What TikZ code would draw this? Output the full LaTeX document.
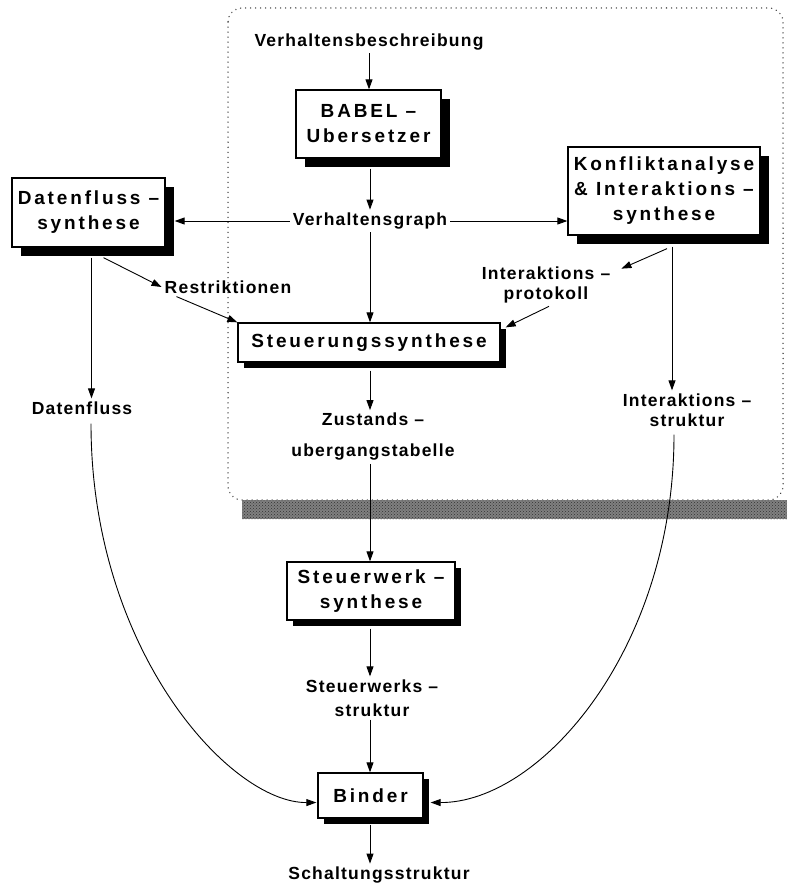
\documentclass[tikz,border=0pt]{standalone}
\usepackage{fontspec}
\setmainfont{Liberation Sans}
\newfontfamily\boxfont[LetterSpace=15]{Liberation Sans}
\newfontfamily\lblfont[LetterSpace=7]{Liberation Sans}
\usetikzlibrary{arrows.meta,shadows,calc,patterns}

\tikzset{
  box/.style={draw, line width=1.3pt, fill=white, inner sep=0pt, align=center,
    font=\boxfont\bfseries\fontsize{19}{25}\selectfont,
    drop shadow={shadow xshift=#1, shadow yshift=-#1, fill=black, opacity=1}},
  box/.default=9pt,
  lbl/.style={inner sep=3pt, align=center,
    font=\lblfont\bfseries\fontsize{17.5}{20}\selectfont},
  arr/.style={line width=0.9pt, -{Triangle[length=10pt,width=7pt]}},
  frame/.style={line width=1.5pt, black!75, line cap=round,
    dash pattern=on 0.01pt off 5pt, rounded corners=14pt},
}

\begin{document}
\begin{tikzpicture}[x=1pt,y=-1pt]
\useasboundingbox (0,0) rectangle (787,888);

% dotted frame around the behaviour-level steps, with its shaded base
\draw[frame] (228,8) rectangle (783,500);
\fill[black!50] (242,500) rectangle (787,519);
\fill[pattern=crosshatch dots, pattern color=black!80] (242,500) rectangle (787,519);

% process boxes
\node[box, minimum width=153pt, minimum height=69pt] (dfs) at (88.5,212.5) {Datenfluss –\\synthese};
\node[box, minimum width=145pt, minimum height=68pt] (babel) at (368.5,124) {BABEL –\\Ubersetzer};
\node[box, minimum width=192pt, minimum height=88pt] (konf) at (664,191) {Konfliktanalyse\\\& Interaktions –\\synthese};
\node[box=6pt, minimum width=262pt, minimum height=39pt] (steu) at (369,342.5) {Steuerungssynthese};
\node[box=6pt, minimum width=168pt, minimum height=58pt] (stw) at (371,591) {Steuerwerk –\\synthese};
\node[box=6pt, minimum width=105pt, minimum height=45pt] (binder) at (370.5,795.5) {Binder};

% intermediate results
\node[lbl] (vb) at (369,42) {Verhaltensbeschreibung};
\node[lbl] (vg) at (370,221) {Verhaltensgraph};
\node[lbl] (restr) at (228,287) {Restriktionen};
\node[lbl] (df) at (82,408) {Datenfluss};
\node[lbl] (ip) at (546,285) {Interaktions –\\protokoll};
\node[lbl] (is) at (687,410) {Interaktions –\\struktur};
\node[lbl, font=\lblfont\bfseries\fontsize{17.5}{31}\selectfont] (zu) at (373,437) {Zustands –\\ubergangstabelle};
\node[lbl, font=\lblfont\bfseries\fontsize{17.5}{24}\selectfont] (swst) at (372,698) {Steuerwerks –\\struktur};
\node[lbl] (sch) at (379,875) {Schaltungsstruktur};

% helper points on box and shadow edges
\coordinate (dfo) at ($(dfs.south)+(3,10)$);
\coordinate (ko) at ($(konf.south)+(8,11)$);
\coordinate (dfe) at ($(df.south)+(9,6)$);
\coordinate (ise) at ($(is.south)+(-13,5)$);
\coordinate (bo) at ($(babel.south)+(1.5,10)$);
\coordinate (so) at ($(steu.south)+(1,8)$);
\coordinate (wo) at ($(stw.south)+(-1,8)$);
\coordinate (bdo) at ($(binder.south)+(-0.5,6)$);

% connectors
\draw[arr] (vb.south) -- (vb.south |- babel.north);
\draw[arr] (bo) -- (bo |- vg.north);
\draw[arr] (vg.west) -- ($(vg.west -| dfs.east)+(9,0)$);
\draw[arr] (vg.east) -- (vg.east -| konf.west);
\draw[arr] (vg.south) -- (vg.south |- steu.north);
\draw[arr] ($(dfs.south)+(15,10)$) -- (restr.west);
\draw[arr] ($(restr.south west)+(15,0)$) -- (steu.north west);
\draw[arr] (dfo) -- (dfo |- df.north);
\draw[arr] ($(konf.south)+(3,13)$) -- ($(ip.north east)+(8,5)$);
\draw[arr] ($(ip.south)+(3,0)$) -- ($(steu.north east)+(5,5)$);
\draw[arr] (ko) -- (ko |- is.north);
\draw[arr] (so) -- (so |- zu.north);
\draw[arr] (so |- zu.south) -- (so |- stw.north);
\draw[arr] (wo) -- (wo |- swst.north);
\draw[arr] (wo |- swst.south) -- (wo |- binder.north);
\draw[arr] (bdo) -- (bdo |- sch.north);
\draw[arr] (dfe) .. controls (91,650) and (230,803) .. ($(binder.west)+(-1,7)$);
\draw[arr] (ise) .. controls (674,650) and (540,803) .. ($(binder.east)+(7,7)$);
\end{tikzpicture}
\end{document}
